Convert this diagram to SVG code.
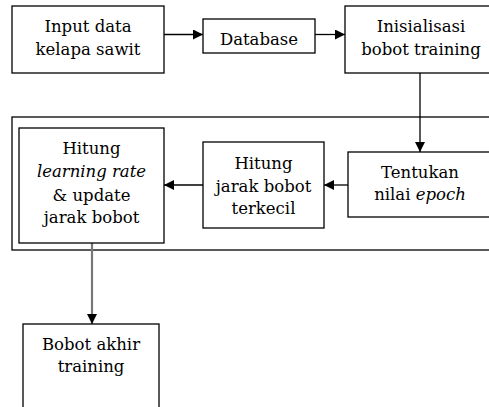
<svg xmlns="http://www.w3.org/2000/svg" width="489" height="407" viewBox="0 0 489 407">
<defs>
<marker id="ah" viewBox="0 0 10 10" refX="10" refY="5" markerWidth="10" markerHeight="10" markerUnits="userSpaceOnUse" orient="auto">
<path d="M0,0 L10,5 L0,10 Z" fill="#000"/>
</marker>
</defs>
<style>
.b{fill:#fff;stroke:#000;stroke-width:1.3}
.t{font-family:"DejaVu Serif","Liberation Serif",serif;font-size:16.5px;fill:#000;text-anchor:middle}
.c{fill:none;stroke:#000;stroke-width:1.3}
</style>
<rect width="489" height="407" fill="#fff"/>
<g id="frame"><rect class="b" x="12" y="117" width="490" height="133"/></g>
<g id="connectors">
<line class="c" x1="164" y1="34.5" x2="203" y2="34.5" marker-end="url(#ah)"/>
<line class="c" x1="315" y1="34.5" x2="345" y2="34.5" marker-end="url(#ah)"/>
<line class="c" x1="420" y1="73" x2="420" y2="152" marker-end="url(#ah)"/>
<line class="c" x1="348" y1="185" x2="324" y2="185" marker-end="url(#ah)"/>
<line class="c" x1="203" y1="185" x2="164" y2="185" marker-end="url(#ah)"/>
<line x1="92" y1="243" x2="92" y2="324" stroke="#777" stroke-width="2.2" marker-end="url(#ah)"/>
</g>
<g id="input"><rect class="b" x="12" y="6" width="152" height="67"/>
<text class="t" x="88" y="32">Input data</text><text class="t" x="88" y="55">kelapa sawit</text></g>
<g id="database"><rect class="b" x="203" y="19" width="112" height="34"/>
<text class="t" x="259" y="45">Database</text></g>
<g id="inisialisasi"><rect class="b" x="345" y="6" width="150" height="67"/>
<text class="t" x="421" y="32">Inisialisasi</text><text class="t" x="421" y="55">bobot training</text></g>
<g id="tentukan"><rect class="b" x="348" y="152" width="150" height="65"/>
<text class="t" x="420" y="178">Tentukan</text><text class="t" x="420" y="200">nilai <tspan font-style="italic">epoch</tspan></text></g>
<g id="jarak"><rect class="b" x="203" y="142" width="121" height="86"/>
<text class="t" x="263.5" y="169">Hitung</text><text class="t" x="263.5" y="192">jarak bobot</text><text class="t" x="263.5" y="214">terkecil</text></g>
<g id="learning"><rect class="b" x="19" y="128" width="145" height="115"/>
<text class="t" x="91.5" y="154">Hitung</text><text class="t" x="91.5" y="177" font-style="italic">learning rate</text><text class="t" x="91.5" y="201">&amp; update</text><text class="t" x="91.5" y="223">jarak bobot</text></g>
<g id="akhir"><rect class="b" x="23" y="324" width="136" height="90"/>
<text class="t" x="91" y="350">Bobot akhir</text><text class="t" x="91" y="372">training</text></g>
</svg>
